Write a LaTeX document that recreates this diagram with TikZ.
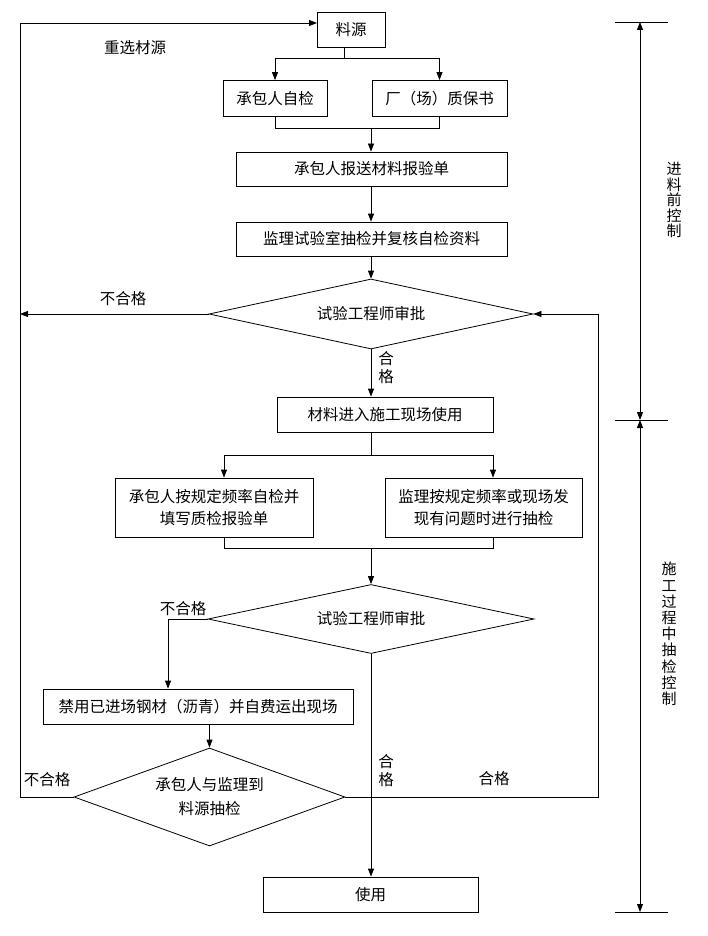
\documentclass[tikz,border=0pt]{standalone}
\usepackage{fontspec}
\setmainfont{Noto Sans CJK SC}
\usetikzlibrary{arrows.meta,shapes.geometric,calc}
\begin{document}
\begin{tikzpicture}[x=1pt,y=-1pt,
  every node/.style={font=\fontsize{15.5}{22}\selectfont},
  box/.style={draw, line width=0.8pt, inner sep=0pt, minimum height=35pt},
  dia/.style={draw, shape=diamond, line width=0.8pt, inner sep=0pt},
  lbl/.style={inner sep=0pt},
  ln/.style={line width=0.8pt},
  arr/.style={line width=0.8pt, -{Triangle[length=8pt,width=6pt]}},
  darr/.style={line width=0.8pt, {Triangle[length=8pt,width=6pt]}-{Triangle[length=8pt,width=6pt]}},
  vtext/.style={inner sep=0pt, align=center}
]
\fill[white] (0,0) rectangle (707,936);
\useasboundingbox (0,0) rectangle (707,936);

% nodes
\node[box, minimum width=68pt]  (src)    at (351,29.5) {料源};
\node[box, minimum width=104pt, minimum height=36pt] (self)   at (275,98.5) {承包人自检};
\node[box, minimum width=135pt, minimum height=36pt] (cert)   at (439.5,98.5) {厂（场）质保书};
\node[box, minimum width=271pt, minimum height=34pt] (report) at (371.5,169) {承包人报送材料报验单};
\node[box, minimum width=271pt, minimum height=34pt] (lab)    at (371.5,239) {监理试验室抽检并复核自检资料};
\node[dia, minimum width=324pt, minimum height=70pt, aspect=4.6] (d1) at (371,314) {试验工程师审批};
\node[box, minimum width=216pt] (enter)  at (385,414.5) {材料进入施工现场使用};
\node[box, minimum width=198pt, minimum height=59pt, align=center] (boxL) at (214,507.5) {承包人按规定频率自检并\\填写质检报验单};
\node[box, minimum width=197pt, minimum height=59pt, align=center] (boxR) at (483.5,507.5) {监理按规定频率或现场发\\现有问题时进行抽检};
\node[dia, minimum width=326pt, minimum height=69pt, aspect=4.7] (d2) at (371,619) {试验工程师审批};
\node[box, minimum width=310pt] (ban) at (198,706.5) {禁用已进场钢材（沥青）并自费运出现场};
\node[dia, minimum width=271pt, minimum height=98pt, aspect=2.76, align=center,
      font=\fontsize{15.5}{24}\selectfont] (d3) at (209.5,797) {承包人与监理到\\料源抽检};
\node[box, minimum width=215pt] (use) at (370.5,894.5) {使用};

% labels
\node[lbl] (l1) at (135,48) {重选材源};
\node[lbl] (l2) at (123,299) {不合格};
\node[vtext, font=\fontsize{15.5}{18}\selectfont] (l3) at (386,368) {合\\格};
\node[lbl] (l4) at (183,609) {不合格};
\node[vtext, font=\fontsize{15.5}{18}\selectfont] (l5) at (386,771) {合\\格};
\node[lbl] (l6) at (47,780) {不合格};
\node[lbl] (l7) at (494,779) {合格};
\node[vtext, font=\fontsize{15}{15.5}\selectfont] (t1) at (674,200) {进\\料\\前\\控\\制};
\node[vtext, font=\fontsize{15}{16.2}\selectfont] (t2) at (669,634) {施\\工\\过\\程\\中\\抽\\检\\控\\制};

% coordinates
\coordinate (j1) at (344,58);
\coordinate (j2) at (371,128);
\coordinate (j3) at (371,455);
\coordinate (aL) at (224,455);
\coordinate (aR) at (493,455);
\coordinate (j4) at (371,548);
\coordinate (k)  at (168,619);
\coordinate (L1) at (20,797);
\coordinate (L2) at (20,23);
\coordinate (L3) at (20,314);
\coordinate (srcin) at (317,23);
\coordinate (R1) at (598,797);
\coordinate (b0) at (640,22);
\coordinate (b1) at (640,420);
\coordinate (b2) at (640,912);

% connectors
\draw[ln] (src.south -| j1) -- (j1);
\draw[arr] (j1) -| (self.north);
\draw[arr] (j1) -| (cert.north);
\draw[ln] (self.south) |- (cert.south |- j2) -- (cert.south);
\draw[arr] (j2) -- (report.north -| j2);
\draw[arr] (report.south -| j2) -- (lab.north -| j2);
\draw[arr] (lab.south -| d1.north) -- (d1.north);
\draw[arr] (d1.west) -- (L3);
\draw[arr] (d1.south) -- (enter.north -| d1.south);
\draw[ln] (enter.south -| j3) -- (j3);
\draw[ln] (aL) -- (aR);
\draw[arr] (aL) -- (aL |- boxL.north);
\draw[arr] (aR) -- (aR |- boxR.north);
\draw[ln] (aL |- boxL.south) -- (aL |- j4) -- (aR |- j4) -- (aR |- boxR.south);
\draw[arr] (j4) -- (d2.north);
\draw[arr] (d2.west) -- (k) -- (k |- ban.north);
\draw[arr] (ban.south -| d3.north) -- (d3.north);
\draw[arr] (d2.south) -- (use.north -| d2.south);
\draw[arr] (d3.west) -- (L1) -- (L2) -- (srcin);
\draw[arr] (d3.east) -- (R1) |- (d1.east);

% bracket
\draw[ln] (615,22) -- (668,22);
\draw[ln] (615,420) -- (668,420);
\draw[ln] (615,912) -- (668,912);
\draw[darr] (b0) -- (b1);
\draw[darr] (b1) -- (b2);
\end{tikzpicture}
\end{document}
